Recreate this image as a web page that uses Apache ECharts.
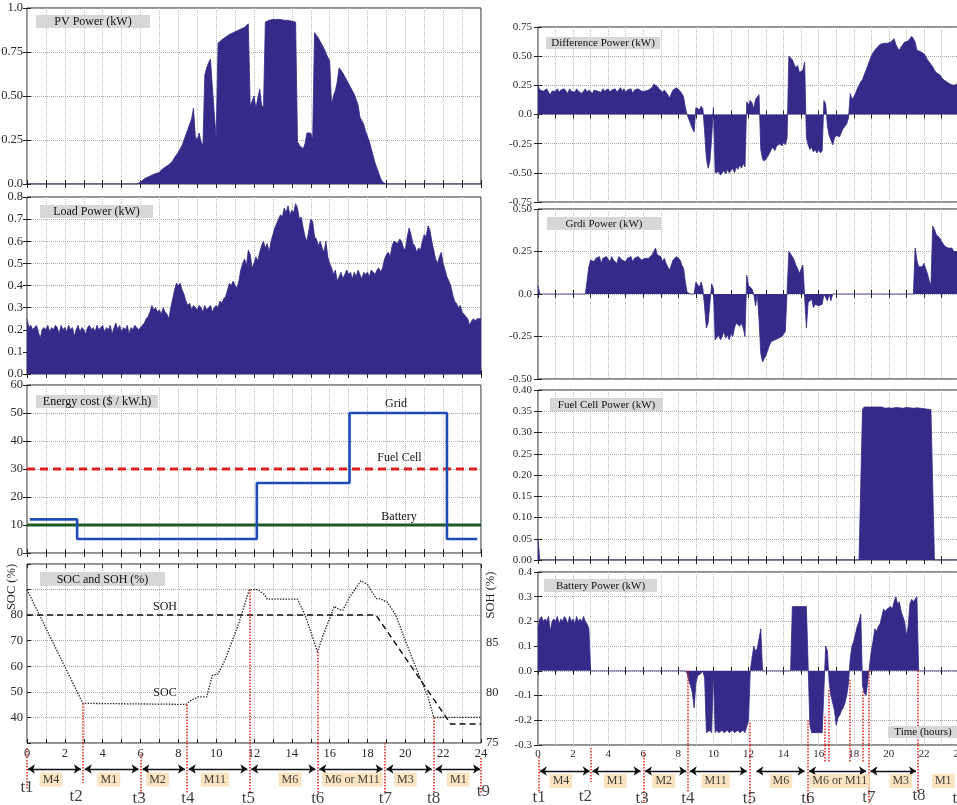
<!DOCTYPE html>
<html><head><meta charset="utf-8">
<script src="https://cdn.jsdelivr.net/npm/echarts@6/dist/echarts.min.js"></script>
<style>html,body{margin:0;padding:0;background:#fff}#c{width:957px;height:805px}</style>
</head><body><div id="c"></div>
<script>
// ---------------- DATA (sampled every 0.1 h, t = 0 .. 24) ----------------
const HOUR_STEP = 0.1;
const xTickHours = [0,2,4,6,8,10,12,14,16,18,20,22,24];

const pvPower = [
0,0,0,0,0,0,0,0,0,0, 0,0,0,0,0,0,0,0,0,0, 0,0,0,0,0,0,0,0,0,0,
0,0,0,0,0,0,0,0,0,0, 0,0,0,0,0,0,0,0,0,0, 0,0,0,0,0,0,0,0,0,0,
0.01,0.02,0.03,0.035,0.04,0.045,0.05,0.055,0.06,0.06,
0.065,0.08,0.09,0.095,0.10,0.11,0.12,0.13,0.15,0.16,
0.18,0.20,0.22,0.25,0.28,0.31,0.34,0.37,0.43,0.27,
0.25,0.29,0.24,0.22,0.62,0.66,0.69,0.71,0.55,0.40,
0.26,0.80,0.81,0.82,0.83,0.835,0.84,0.85,0.855,0.86,
0.865,0.87,0.875,0.88,0.89,0.89,0.90,0.91,0.44,0.43,
0.50,0.43,0.43,0.54,0.45,0.43,0.92,0.925,0.93,0.93,
0.935,0.93,0.935,0.93,0.935,0.93,0.93,0.935,0.93,0.93,
0.925,0.93,0.92,0.24,0.22,0.21,0.20,0.23,0.29,0.28,
0.29,0.25,0.86,0.85,0.83,0.81,0.79,0.77,0.76,0.72,
0.70,0.45,0.50,0.53,0.58,0.66,0.65,0.63,0.61,0.59,
0.57,0.55,0.53,0.51,0.48,0.45,0.38,0.36,0.34,0.30,
0.27,0.24,0.20,0.16,0.12,0.09,0.06,0.03,0.01,0,
0,0,0,0,0,0,0,0,0,0, 0,0,0,0,0,0,0,0,0,0, 0,0,0,0,0,0,0,0,0,0,
0,0,0,0,0,0,0,0,0,0, 0,0,0,0,0,0,0,0,0,0,
0];

const loadPower = [
0.25,0.21,0.22,0.20,0.21,0.22,0.19,0.16,0.20,0.21,
0.20,0.22,0.19,0.21,0.20,0.22,0.21,0.18,0.22,0.20,
0.21,0.19,0.22,0.20,0.21,0.17,0.20,0.22,0.19,0.21,
0.20,0.18,0.21,0.22,0.20,0.21,0.19,0.22,0.20,0.21,
0.22,0.19,0.21,0.20,0.22,0.18,0.21,0.23,0.20,0.22,
0.19,0.21,0.20,0.22,0.18,0.21,0.20,0.22,0.21,0.20,
0.21,0.22,0.23,0.25,0.26,0.28,0.31,0.29,0.30,0.28,
0.29,0.27,0.30,0.28,0.27,0.25,0.30,0.34,0.38,0.41,
0.40,0.41,0.38,0.36,0.33,0.31,0.32,0.29,0.31,0.30,
0.29,0.31,0.30,0.28,0.31,0.29,0.30,0.31,0.28,0.30,
0.31,0.30,0.33,0.32,0.34,0.35,0.38,0.41,0.40,0.42,
0.40,0.39,0.42,0.47,0.50,0.52,0.49,0.56,0.54,0.48,
0.50,0.53,0.51,0.55,0.58,0.60,0.57,0.59,0.55,0.60,
0.63,0.66,0.68,0.70,0.72,0.71,0.75,0.73,0.76,0.72,
0.74,0.73,0.77,0.75,0.70,0.71,0.66,0.62,0.60,0.65,
0.70,0.69,0.62,0.61,0.58,0.60,0.57,0.55,0.60,0.53,
0.50,0.48,0.45,0.47,0.42,0.44,0.46,0.43,0.45,0.47,
0.45,0.46,0.43,0.46,0.44,0.47,0.45,0.43,0.46,0.45,
0.46,0.44,0.47,0.46,0.45,0.47,0.48,0.46,0.48,0.52,
0.54,0.55,0.53,0.58,0.60,0.60,0.59,0.61,0.60,0.57,
0.56,0.62,0.66,0.63,0.59,0.58,0.55,0.57,0.56,0.60,
0.63,0.62,0.67,0.65,0.60,0.56,0.52,0.50,0.53,0.55,
0.50,0.47,0.44,0.42,0.40,0.36,0.33,0.32,0.30,0.31,
0.28,0.27,0.26,0.25,0.22,0.24,0.25,0.24,0.25,0.25,
0.25];

const diffPower = [
0.25,0.21,0.22,0.20,0.21,0.22,0.19,0.17,0.20,0.21,
0.20,0.22,0.19,0.21,0.20,0.22,0.21,0.18,0.22,0.20,
0.21,0.19,0.22,0.20,0.21,0.18,0.20,0.22,0.19,0.21,
0.20,0.18,0.21,0.22,0.20,0.21,0.19,0.22,0.20,0.21,
0.22,0.19,0.21,0.20,0.22,0.19,0.21,0.23,0.20,0.22,
0.19,0.21,0.20,0.22,0.18,0.21,0.20,0.22,0.21,0.20,
0.20,0.20,0.20,0.21,0.22,0.23,0.26,0.27,0.24,0.22,
0.22,0.19,0.21,0.19,0.17,0.14,0.18,0.21,0.22,0.23,
0.22,0.20,0.18,0.15,0.06,0.00,-0.04,-0.08,-0.12,-0.15,
0.06,0.07,0.04,0.07,0.05,-0.15,-0.38,-0.46,-0.40,-0.20,
0.06,-0.50,-0.51,-0.49,-0.52,-0.50,-0.48,-0.51,-0.47,-0.50,
-0.49,-0.46,-0.50,-0.45,-0.47,-0.43,-0.46,-0.42,-0.45,0.11,
0.08,0.12,0.10,0.05,0.13,0.15,0.17,-0.30,-0.38,-0.40,
-0.40,-0.36,-0.33,-0.30,-0.28,-0.31,-0.27,-0.28,-0.25,-0.27,
-0.24,-0.26,-0.20,0.50,0.49,0.47,0.43,0.40,0.42,0.36,
0.35,0.38,0.45,-0.20,-0.26,-0.30,-0.28,-0.32,-0.30,-0.33,
-0.30,-0.33,-0.31,0.12,0.09,-0.10,-0.18,-0.22,-0.26,-0.20,
-0.18,-0.17,-0.19,-0.15,-0.12,-0.10,-0.08,-0.03,0.18,0.13,
0.15,0.18,0.22,0.25,0.28,0.30,0.34,0.38,0.42,0.46,
0.50,0.53,0.55,0.57,0.58,0.60,0.59,0.61,0.60,0.61,
0.60,0.62,0.63,0.65,0.60,0.57,0.55,0.58,0.60,0.62,
0.61,0.63,0.65,0.67,0.65,0.62,0.55,0.56,0.54,0.53,
0.52,0.50,0.47,0.45,0.43,0.41,0.38,0.36,0.37,0.34,
0.32,0.30,0.29,0.28,0.27,0.26,0.27,0.25,0.25,0.26,
0.25];

const gridPower = [
0.05,0,0,0,0,0,0,0,0,0,
0,0,0,0,0,0,0,0,0,0,
0,0,0,0,0,0,0,0,0,0.16,
0.20,0.21,0.19,0.21,0.20,0.22,0.18,0.21,0.20,0.22,
0.21,0.19,0.22,0.20,0.21,0.18,0.22,0.23,0.20,0.21,
0.19,0.21,0.20,0.22,0.19,0.21,0.20,0.22,0.21,0.20,
0.20,0.21,0.20,0.21,0.22,0.23,0.25,0.27,0.23,0.22,
0.22,0.19,0.21,0.18,0.17,0.14,0.17,0.20,0.21,0.22,
0.21,0.20,0.17,0.15,0.07,0.01,0,0,0,0,
0.07,0.06,0.04,0.07,0.03,-0.08,-0.20,-0.17,-0.16,0.06,
0.03,-0.27,-0.26,-0.24,-0.27,-0.25,-0.22,-0.26,-0.24,-0.27,
-0.23,-0.25,-0.20,-0.17,-0.18,-0.19,-0.17,-0.20,-0.25,0.11,
0.05,0.04,0.03,0,-0.07,0,-0.15,-0.35,-0.40,-0.38,
-0.36,-0.33,-0.30,-0.28,-0.29,-0.27,-0.28,-0.26,-0.27,-0.25,
-0.24,-0.22,-0.21,0.25,0.24,0.22,0.20,0.17,0.15,0.12,
0.12,0.17,0.18,-0.20,-0.05,-0.06,-0.03,-0.08,-0.06,-0.05,
-0.07,-0.08,-0.06,0,-0.02,-0.04,0,-0.04,0,0,
0,0,0,0,0,0,0,0,0,0,
0,0,0,0,0,0,0,0,0,0,
0,0,0,0,0,0,0,0,0,0,
0,0,0,0,0,0,0,0,0,0,
0,0,0,0,0,0.27,0.20,0.16,0.17,0.16,
0.18,0.15,0.12,0.08,0.05,0.40,0.38,0.35,0.34,0.33,
0.31,0.30,0.28,0.29,0.27,0.26,0.27,0.25,0.26,0.25,
0.25];

const fuelCellPower = [
0.05,0,0,0,0,0,0,0,0,0,
0,0,0,0,0,0,0,0,0,0, 0,0,0,0,0,0,0,0,0,0, 0,0,0,0,0,0,0,0,0,0,
0,0,0,0,0,0,0,0,0,0, 0,0,0,0,0,0,0,0,0,0, 0,0,0,0,0,0,0,0,0,0,
0,0,0,0,0,0,0,0,0,0, 0,0,0,0,0,0,0,0,0,0, 0,0,0,0,0,0,0,0,0,0,
0,0,0,0,0,0,0,0,0,0, 0,0,0,0,0,0,0,0,0,0, 0,0,0,0,0,0,0,0,0,0,
0,0,0,0,0,0,0,0,0,0, 0,0,0,0,0,0,0,0,0,0, 0,0,0,0,0,0,0,0,0,0,
0,0,0,0,0,0,0,0,0,0, 0,0,0,0,0,0,0,0,0,0,
0,0,0,0,0,0.355,0.36,0.358,0.36,0.357,
0.36,0.359,0.36,0.357,0.36,0.358,0.36,0.36,0.357,0.36,
0.358,0.36,0.357,0.36,0.359,0.36,0.358,0.36,0.357,0.36,
0.359,0.36,0.358,0.36,0.357,0.36,0.358,0.356,0.357,0.355,
0.356,0.353,0.355,0.352,0.354,0.35,0,0,0,0,
0,0,0,0,0,0,0,0,0,0,
0];

const batteryPower = [
0.17,0.21,0.22,0.20,0.21,0.20,0.22,0.16,0.20,0.21,
0.20,0.22,0.19,0.21,0.20,0.22,0.21,0.19,0.22,0.20,
0.21,0.19,0.22,0.20,0.21,0.20,0.22,0.20,0.19,0.17,
0,0,0,0,0,0,0,0,0,0, 0,0,0,0,0,0,0,0,0,0, 0,0,0,0,0,0,0,0,0,0,
0,0,0,0,0,0,0,0,0,0, 0,0,0,0,0,0,0,0,0,0,
0,0,0,0,0,-0.01,-0.04,-0.06,-0.09,-0.15,
-0.05,-0.02,-0.02,-0.01,0,-0.03,-0.25,-0.25,-0.24,-0.25,
0,-0.25,-0.24,-0.25,-0.25,-0.24,-0.25,-0.25,-0.24,-0.25,
-0.25,-0.24,-0.25,-0.25,-0.24,-0.25,-0.25,-0.24,-0.25,-0.25,
-0.20,0,0,0.10,0.08,0.09,0.13,0.17,0,0,
0,0,0,0,0,0,0,0,0,0,
0,0,0,0,0,0.26,0.26,0.26,0.26,0.26,
0.26,0.26,0.26,0.26,0.26,-0.22,-0.25,-0.25,-0.25,-0.25,
-0.25,-0.25,-0.25,-0.25,0.10,0.08,-0.05,-0.10,-0.13,-0.16,
-0.22,-0.19,-0.18,-0.16,-0.15,-0.13,-0.10,-0.05,0.05,0.10,
0.12,0.15,0.18,0.20,0.23,-0.06,-0.09,-0.10,-0.04,0.02,
0.08,0.12,0.17,0.16,0.18,0.19,0.22,0.25,0.24,0.25,
0.25,0.26,0.25,0.28,0.30,0.27,0.28,0.24,0.22,0.20,
0.14,0.18,0.27,0.29,0.28,0.29,0.30,0,0,0,
0,0,0,0,0,0,0,0,0,0,
0,0,0,0,0,0,0,0,0,0,
0];

// Energy cost ($ / kW.h)
const gridCostHours  = [0.15, 2.65, 12.15, 17.05, 22.2, 23.8];
const gridCostValues = [12, 5, 25, 50, 5, 5];
const fuelCellCost = 30;
const batteryCost = 10;

// SOC (%) and SOH (%)
const socHours  = [0, 2.95, 8.4, 8.7, 9.05, 9.5, 9.8, 10.1, 10.5, 11.2, 11.75, 12.2, 12.55, 12.7, 14.3, 14.75, 15.35, 15.7, 16.25, 16.5, 16.7, 17.05, 17.65, 18.0, 18.45, 18.7, 19.05, 19.5, 20.0, 20.75, 21.2, 21.5, 24];
const socValues = [90, 45.5, 45.1, 46.8, 48, 48, 56.5, 57, 63, 77, 90, 90, 88, 86.3, 86.3, 79, 65.7, 73, 83.5, 82.2, 82, 87, 93.4, 92, 86.5, 86.3, 85, 80, 70, 56, 48, 40, 40];
const sohHours  = [0, 18.45, 22.4, 24];
const sohValues = [87.8, 87.8, 76.9, 76.9];

// Operating modes and switching instants
const modeNames = ['M4','M1','M2','M11','M6','M6 or M11','M3','M1'];
const leftBoundaryHours  = [0, 2.95, 6.0, 8.45, 11.75, 15.35, 18.9, 21.5, 24];
const leftBoundarySoc    = [null, 45.5, null, 45.1, 90, 65.7, null, 40, null];
const leftModeCenters    = [1.27, 4.33, 6.9, 9.93, 13.9, 17.2, 20.0, 22.8];
const leftArrowSpans     = [[0.05,2.85],[3.05,5.9],[6.1,8.35],[8.55,11.65],[11.85,15.25],[15.45,18.8],[19.0,21.4],[21.6,23.95]];
const leftTLabelHours    = [0, 2.6, 5.93, 8.5, 11.7, 15.37, 18.94, 21.5, 24.13];

const rightBoundaryHours = [0.05, 3.0, 6.0, 8.55, 12.05, 15.4, 18.88, 21.64, 24];
const rightBoundaryBatt  = [null, null, null, 0, -0.21, -0.2, 0, 0, null];
const rightExtraHours    = [16.34, 16.6, 17.8, 18.5];
const rightExtraBatt     = [-0.185, -0.077, -0.036, -0.084];
const rightModeCenters   = [1.31, 4.4, 7.17, 10.13, 13.85, 17.2, 20.68, 23.1];
const rightArrowSpans    = [[0.1,2.95],[3.1,5.85],[6.1,8.45],[8.65,11.9],[12.45,15.2],[15.45,18.7],[18.95,21.55],[21.8,24.05]];
const rightTLabelHours   = [0.07, 2.7, 5.93, 8.55, 12.05, 15.39, 18.86, 21.72, 24.0];

// ---------------- LAYOUT / STYLE ----------------
const FONT = '"Liberation Serif","Times New Roman",serif';
const NAVY = '#352a87';
const RED = '#e2231a';
const toPairs = vals => vals.map((v, i) => [Math.round(i * HOUR_STEP * 10) / 10, v]);
const zeroFix = (v, d) => Math.abs(v) < 1e-9 ? '0.0' : v.toFixed(d);

const panels = [
  {g:{left:27,top:8,width:454,height:176},   y:{min:0,max:1,interval:0.25},    fmt:v=>Math.abs(v-1)<1e-9?'1.0':zeroFix(v,2), xl:false, fs:12.5},
  {g:{left:27,top:197,width:454,height:177}, y:{min:0,max:0.8,interval:0.1},   fmt:v=>v.toFixed(1), xl:false, fs:12.5},
  {g:{left:27,top:385,width:454,height:168}, y:{min:0,max:60,interval:10},     fmt:v=>String(Math.round(v)), xl:false, fs:12.5},
  {g:{left:27,top:564,width:454,height:179}, y:{min:30,max:100,interval:10},   fmt:v=>(v>=40&&v<=80)?String(Math.round(v)):'', xl:true, fs:12.5, soh:true},
  {g:{left:538,top:27,width:421,height:175}, y:{min:-0.75,max:0.75,interval:0.25}, fmt:v=>zeroFix(v,2), xl:false, fs:11},
  {g:{left:538,top:209,width:421,height:170},y:{min:-0.5,max:0.5,interval:0.25},   fmt:v=>zeroFix(v,2), xl:false, fs:11},
  {g:{left:538,top:390,width:421,height:170},y:{min:0,max:0.4,interval:0.05},      fmt:v=>v.toFixed(2), xl:false, fs:11},
  {g:{left:538,top:572,width:421,height:173},y:{min:-0.3,max:0.4,interval:0.1},    fmt:v=>zeroFix(v,1), xl:true, fs:11}
];

const grid = [], xAxis = [], yAxis = [];
panels.forEach((p, i) => {
  grid.push(Object.assign({show:true, borderColor:'#222', borderWidth:1, backgroundColor:'rgba(0,0,0,0)', outerBoundsMode:'none', containLabel:false}, p.g));
  const lblStyle = {fontFamily:FONT, fontSize:p.fs, color:'#2a2a2a'};
  xAxis.push({gridIndex:i, type:'value', min:0, max:24, interval:1, position:'bottom',
    axisLine:{show:false}, axisTick:{show:true, inside:true, length:4, lineStyle:{color:'#222'}},
    axisLabel:Object.assign({show:p.xl, margin:4, formatter:v=>xTickHours.indexOf(v)>=0?String(v):''}, lblStyle),
    splitLine:{show:true, lineStyle:{color:'#bdbdbd', type:'dotted', width:1}}});
  xAxis.push({gridIndex:i, type:'value', min:0, max:24, interval:1, position:'top',
    axisLine:{show:false}, axisTick:{show:true, inside:true, length:4, lineStyle:{color:'#222'}},
    axisLabel:{show:false}, splitLine:{show:false}});
  yAxis.push(Object.assign({gridIndex:i, type:'value', position:'left',
    axisLine:{show:false}, axisTick:{show:true, inside:true, length:4, lineStyle:{color:'#222'}},
    axisLabel:Object.assign({margin: i<4?4:6, formatter:p.fmt}, lblStyle),
    splitLine:{show:true, lineStyle:{color:'#a8a8a8', type:'dotted', width:1}}}, p.y));
  if (p.soh) {
    yAxis.push({gridIndex:i, type:'value', position:'right', min:75, max:92.9, interval:5,
      axisLine:{show:false}, axisTick:{show:false},
      axisLabel:Object.assign({margin:5, formatter:v=>v<=85.01?String(Math.round(v)):''}, lblStyle),
      splitLine:{show:false}});
  } else {
    yAxis.push(Object.assign({gridIndex:i, type:'value', position:'right',
      axisLine:{show:false}, axisTick:{show:true, inside:true, length:4, lineStyle:{color:'#222'}},
      axisLabel:{show:false}, splitLine:{show:false}}, p.y));
  }
});
// annotation strips below the bottom panels (y = pixel-like offset below plot)
grid.push({left:27, top:743, width:454, height:62, show:false, outerBoundsMode:'none', containLabel:false});
grid.push({left:538, top:745, width:421, height:60, show:false, outerBoundsMode:'none', containLabel:false});
xAxis.push({gridIndex:8, type:'value', min:0, max:24, show:false});
xAxis.push({gridIndex:9, type:'value', min:0, max:24, show:false});
yAxis.push({gridIndex:8, type:'value', min:0, max:62, inverse:true, show:false});
yAxis.push({gridIndex:9, type:'value', min:0, max:60, inverse:true, show:false});

const areaSeries = (vals, xi, yi) => ({
  type:'line', xAxisIndex:xi, yAxisIndex:yi, data:toPairs(vals), showSymbol:false, symbol:'none',
  lineStyle:{color:NAVY, width:0.8}, areaStyle:{color:NAVY, opacity:1}, silent:true, z:3
});
const redLine = {color:RED, type:'dotted', width:1.5};

const leftRedPlot = [];
leftBoundaryHours.forEach((t,i)=>{ if (leftBoundarySoc[i]!==null) leftRedPlot.push([{coord:[t,leftBoundarySoc[i]]},{coord:[t,30]}]); });
const leftRedAnnStart = [5,0,11,0,0,0,0,0,15];
const leftRedAnnEnd   = [47,40,51,50,51,51,51,51,50];
const leftRedAnn = leftBoundaryHours.map((t,i)=>[{coord:[t,leftRedAnnStart[i]]},{coord:[t,leftRedAnnEnd[i]]}]);
const leftTOffsets = [45,54,56,56,56,56,56,56,49];

const rightRedPlot = [];
rightBoundaryHours.forEach((t,i)=>{ if (rightBoundaryBatt[i]!==null) rightRedPlot.push([{coord:[t,rightBoundaryBatt[i]]},{coord:[t,-0.3]}]); });
rightExtraHours.forEach((t,i)=> rightRedPlot.push([{coord:[t,rightExtraBatt[i]]},{coord:[t,-0.3]}]));
const rightRedAnnStart = [12,3,7,0,0,0,0,0,12];
const rightRedAnnEnd   = [48,37,58,48,60,58,58,47,48];
const rightRedAnn = rightBoundaryHours.map((t,i)=>[{coord:[t,rightRedAnnStart[i]]},{coord:[t,rightRedAnnEnd[i]]}]);
rightExtraHours.forEach(t=> rightRedAnn.push([{coord:[t,0]},{coord:[t,18]}]));
const rightTOffsets = [53,52,54,54,54,54,53,51,54];

const modeLabelSeries = (xi, centers, yOff, spans, arrowY) => ({
  type:'scatter', xAxisIndex:xi, yAxisIndex:xi, symbolSize:1, itemStyle:{color:'rgba(0,0,0,0)'}, clip:false, silent:true, z:6,
  data:centers.map((t,i)=>({value:[t,yOff], name:modeNames[i]})),
  label:{show:true, position:'inside', formatter:'{b}', backgroundColor:'#f8dcb1', padding:[1,3],
    fontFamily:FONT, fontSize:12, lineHeight:12, color:'#111'},
  markLine:{silent:true, symbol:['arrow','arrow'], symbolSize:7, label:{show:false},
    lineStyle:{color:'#111', width:1.3, type:'solid'}, data:spans.map(s=>[{coord:[s[0],arrowY]},{coord:[s[1],arrowY]}])}
});
const tLabelSeries = (xi, hours, offs, redData) => ({
  type:'scatter', xAxisIndex:xi, yAxisIndex:xi, symbolSize:1, itemStyle:{color:'rgba(0,0,0,0)'}, clip:false, silent:true, z:5,
  data:hours.map((t,i)=>({value:[t,offs[i]], name:'t'+(i+1)})),
  label:{show:true, position:'inside', formatter:'{b}', fontFamily:FONT, fontSize:17, color:'#111'},
  markLine:{silent:true, symbol:['none','none'], label:{show:false}, lineStyle:redLine, data:redData}
});

const series = [
  areaSeries(pvPower, 0, 0),
  areaSeries(loadPower, 2, 2),
  {type:'line', xAxisIndex:4, yAxisIndex:4, step:'end', data:gridCostHours.map((t,i)=>[t,gridCostValues[i]]),
    showSymbol:false, symbol:'none', lineStyle:{color:'#1f4db8', width:2.6}, z:4},
  {type:'line', xAxisIndex:4, yAxisIndex:4, data:[[0,fuelCellCost],[24,fuelCellCost]], showSymbol:false, symbol:'none',
    lineStyle:{color:'#dc1f1f', width:3, type:[8,5]}, z:3},
  {type:'line', xAxisIndex:4, yAxisIndex:4, data:[[0,batteryCost],[24,batteryCost]], showSymbol:false, symbol:'none',
    lineStyle:{color:'#1d5a26', width:3.2}, z:3},
  {type:'line', xAxisIndex:6, yAxisIndex:6, data:socHours.map((t,i)=>[t,socValues[i]]), showSymbol:false, symbol:'none',
    lineStyle:{color:'#222', width:1.3, type:[1.4,1.4]}, z:4,
    markLine:{silent:true, symbol:['none','none'], label:{show:false}, lineStyle:redLine, data:leftRedPlot}},
  {type:'line', xAxisIndex:6, yAxisIndex:7, data:sohHours.map((t,i)=>[t,sohValues[i]]), showSymbol:false, symbol:'none',
    lineStyle:{color:'#111', width:1.4, type:[6,4]}, z:4},
  areaSeries(diffPower, 8, 8),
  areaSeries(gridPower, 10, 10),
  areaSeries(fuelCellPower, 12, 12),
  Object.assign(areaSeries(batteryPower, 14, 14), {
    markLine:{silent:true, symbol:['none','none'], label:{show:false}, lineStyle:redLine, data:rightRedPlot}}),
  modeLabelSeries(16, leftModeCenters, 36.5, leftArrowSpans, 26),
  tLabelSeries(16, leftTLabelHours, leftTOffsets, leftRedAnn),
  modeLabelSeries(17, rightModeCenters, 36, rightArrowSpans, 26),
  tLabelSeries(17, rightTLabelHours, rightTOffsets, rightRedAnn)
];

// panel title boxes and text annotations
const titleBoxes = [
  {x:36,y:15,w:114,h:13,text:'PV Power (kW)',fs:12},
  {x:40,y:205,w:113,h:13,text:'Load Power (kW)',fs:12},
  {x:36,y:395,w:122,h:13,text:'Energy cost ($ / kW.h)',fs:12},
  {x:40,y:572,w:125,h:14,text:'SOC and SOH (%)',fs:12},
  {x:546,y:37,w:114,h:12,text:'Difference Power (kW)',fs:11},
  {x:547,y:217,w:114,h:13,text:'Grdi Power (kW)',fs:11},
  {x:550,y:398,w:113,h:13,text:'Fuel Cell Power (kW)',fs:11},
  {x:544,y:579,w:113,h:13,text:'Battery Power (kW)',fs:11},
  {x:888,y:726,w:75,h:12,text:'Time (hours)',fs:11,tx:923}
];
const freeTexts = [
  {x:396,y:404,text:'Grid'},{x:399.5,y:458,text:'Fuel Cell'},{x:399,y:517,text:'Battery'},
  {x:165,y:607,text:'SOH'},{x:165,y:693,text:'SOC'}
];
const graphic = [];
titleBoxes.forEach(b=>{
  graphic.push({type:'rect', z:100, shape:{x:b.x,y:b.y,width:b.w,height:b.h}, style:{fill:'#d7d7d7'}, silent:true});
  graphic.push({type:'text', z:101, x:(b.tx||b.x+b.w/2), y:b.y+b.h/2+0.5, silent:true,
    style:{text:b.text, font:b.fs+'px '+FONT, fill:'#111', align:'center', verticalAlign:'middle'}});
});
freeTexts.forEach(t=> graphic.push({type:'text', z:101, x:t.x, y:t.y, silent:true,
  style:{text:t.text, font:'12px '+FONT, fill:'#111', align:'center', verticalAlign:'middle'}}));
graphic.push({type:'text', z:101, x:11.5, y:587, rotation:Math.PI/2, silent:true,
  style:{text:'SOC (%)', font:'12.5px '+FONT, fill:'#222', align:'center', verticalAlign:'middle'}});
graphic.push({type:'text', z:101, x:491, y:595, rotation:Math.PI/2, silent:true,
  style:{text:'SOH (%)', font:'12.5px '+FONT, fill:'#222', align:'center', verticalAlign:'middle'}});

const chart = echarts.init(document.getElementById('c'));
chart.setOption({animation:false, backgroundColor:'#fff', grid, xAxis, yAxis, series, graphic});
</script>
</body></html>
